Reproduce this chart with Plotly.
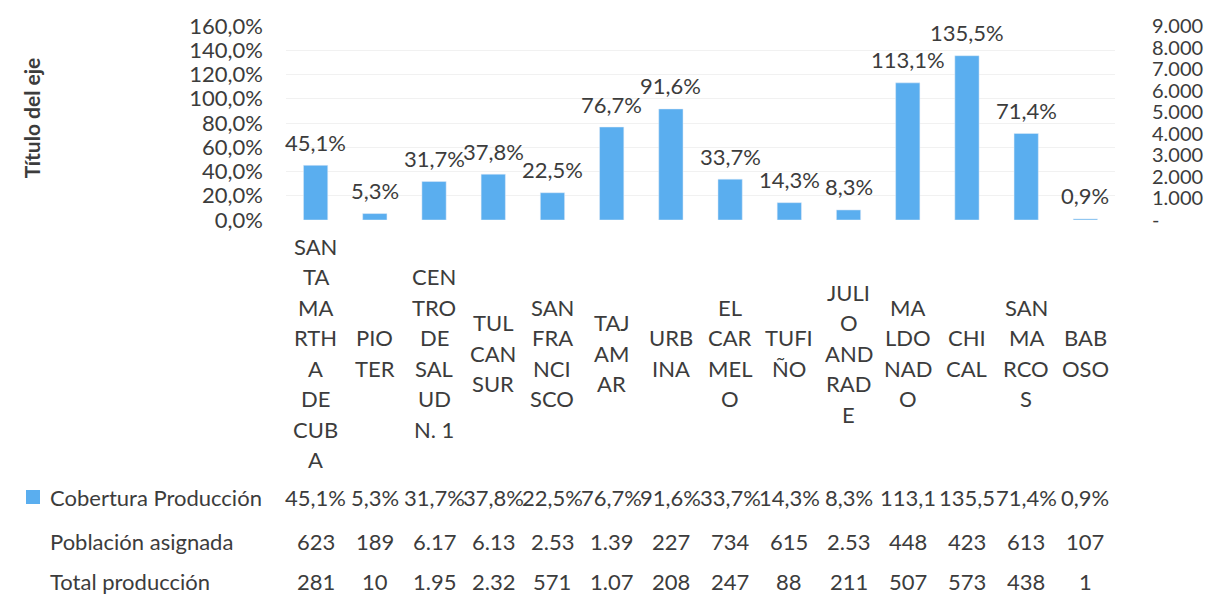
import plotly.graph_objects as go

# ---------------- data ----------------
categories = ["SANTA MARTHA DE CUBA", "PIOTER", "CENTRO DE SALUD N. 1", "TULCAN SUR",
              "SAN FRANCISCO", "TAJAMAR", "URBINA", "EL CARMELO", "TUFIÑO",
              "JULIO ANDRADE", "MALDONADO", "CHICAL", "SAN MARCOS", "BABOSO"]
category_lines = [
    ["SAN", "TA", "MA", "RTH", "A", "DE", "CUB", "A"],
    ["PIO", "TER"],
    ["CEN", "TRO", "DE", "SAL", "UD", "N. 1"],
    ["TUL", "CAN", "SUR"],
    ["SAN", "FRA", "NCI", "SCO"],
    ["TAJ", "AM", "AR"],
    ["URB", "INA"],
    ["EL", "CAR", "MEL", "O"],
    ["TUFI", "ÑO"],
    ["JULI", "O", "AND", "RAD", "E"],
    ["MA", "LDO", "NAD", "O"],
    ["CHI", "CAL"],
    ["SAN", "MA", "RCO", "S"],
    ["BAB", "OSO"],
]
cobertura = [45.1, 5.3, 31.7, 37.8, 22.5, 76.7, 91.6, 33.7, 14.3, 8.3, 113.1, 135.5, 71.4, 0.9]
cobertura_table = ["45,1%", "5,3%", "31,7%", "37,8%", "22,5%", "76,7%", "91,6%", "33,7%",
                   "14,3%", "8,3%", "113,1", "135,5", "71,4%", "0,9%"]
poblacion_table = ["623", "189", "6.17", "6.13", "2.53", "1.39", "227", "734", "615",
                   "2.53", "448", "423", "613", "107"]
produccion_table = ["281", "10", "1.95", "2.32", "571", "1.07", "208", "247", "88",
                    "211", "507", "573", "438", "1"]
row_names = ["Cobertura Producción", "Población asignada", "Total producción"]

left_ticks = [0, 20, 40, 60, 80, 100, 120, 140, 160]
left_ticktext = ["0,0%", "20,0%", "40,0%", "60,0%", "80,0%", "100,0%", "120,0%", "140,0%", "160,0%"]
right_ticks = [0, 1000, 2000, 3000, 4000, 5000, 6000, 7000, 8000, 9000]
right_ticktext = ["-", "1.000", "2.000", "3.000", "4.000", "5.000", "6.000", "7.000", "8.000", "9.000"]
axis_title = "Título del eje"

# ---------------- style ----------------
FONT = "Lato"
TXT = "#3c3c3c"
BLUE = "#5AAEEF"
FS = 22

fig = go.Figure()
fig.add_trace(go.Bar(x=categories, y=cobertura, marker_color=BLUE, width=0.41,
                     name=row_names[0], showlegend=False, hoverinfo="x+y"))
fig.add_trace(go.Scatter(x=[categories[0]], y=[right_ticks[0]], yaxis="y2", mode="markers",
                         marker=dict(opacity=0), showlegend=False, hoverinfo="skip"))

ann = []
# data labels above bars
for c, v in zip(categories, cobertura):
    ann.append(dict(x=c, y=v, xref="x", yref="y", text=f"{v:.1f}".replace(".", ",") + "%",
                    showarrow=False, yanchor="middle", yshift=23,
                    font=dict(family=FONT, size=FS, color=TXT)))

# category labels, wrapped
LINE = 30.5
CENTER = 133  # px below the x axis
for c, lines in zip(categories, category_lines):
    n = len(lines)
    for i, t in enumerate(lines):
        off = CENTER + (i - (n - 1) / 2) * LINE
        ann.append(dict(x=c, y=0, xref="x", yref="paper", text=t, showarrow=False,
                        yanchor="middle", yshift=-off,
                        font=dict(family=FONT, size=FS, color=TXT)))

# data table
row_offsets = [277, 321, 361]
for rname, vals, off in zip(row_names, [cobertura_table, poblacion_table, produccion_table], row_offsets):
    ann.append(dict(x=0, y=0, xref="paper", yref="paper", text=rname, showarrow=False,
                    xanchor="left", yanchor="middle", xshift=-238, yshift=-off,
                    font=dict(family=FONT, size=FS, color=TXT)))
    for c, t in zip(categories, vals):
        ann.append(dict(x=c, y=0, xref="x", yref="paper", text=t, showarrow=False,
                        yanchor="middle", yshift=-off,
                        font=dict(family=FONT, size=FS, color=TXT)))

# axis title
ann.append(dict(x=0, y=0.525, xref="paper", yref="paper", text="<b>" + axis_title + "</b>",
                textangle=-90, showarrow=False, xshift=-255, xanchor="center", yanchor="middle",
                font=dict(family=FONT, size=21, color=TXT)))

fig.update_layout(
    width=1219, height=595,
    margin=dict(l=286, r=104, t=20, b=375),
    paper_bgcolor="white", plot_bgcolor="white",
    font=dict(family=FONT, size=FS, color=TXT),
    annotations=ann,
    xaxis=dict(showticklabels=False, showgrid=False, zeroline=False, showline=False,
               range=[-0.5, len(categories) - 0.5]),
    yaxis=dict(range=[0, 160], tickvals=left_ticks, ticktext=left_ticktext,
               showgrid=True, gridcolor="#f1f1f1", zeroline=False, showline=False,
               ticks="", ticklabelstandoff=22, tickfont=dict(family=FONT, size=FS, color=TXT)),
    yaxis2=dict(range=[0, 9000], tickvals=right_ticks, ticktext=right_ticktext,
                overlaying="y", side="right", showgrid=False, zeroline=False, showline=False,
                ticks="", ticklabelstandoff=36, tickfont=dict(family=FONT, size=20, color=TXT)),
    shapes=[dict(type="rect", xref="paper", yref="paper", xanchor=0, yanchor=0,
                 xsizemode="pixel", ysizemode="pixel",
                 x0=-260, x1=-246, y0=-270, y1=-284,
                 fillcolor=BLUE, line=dict(width=0))],
)

fig.write_html("out.html", config={"displayModeBar": False},
               post_script="document.body.style.margin='0px';document.body.style.overflow='hidden';")
